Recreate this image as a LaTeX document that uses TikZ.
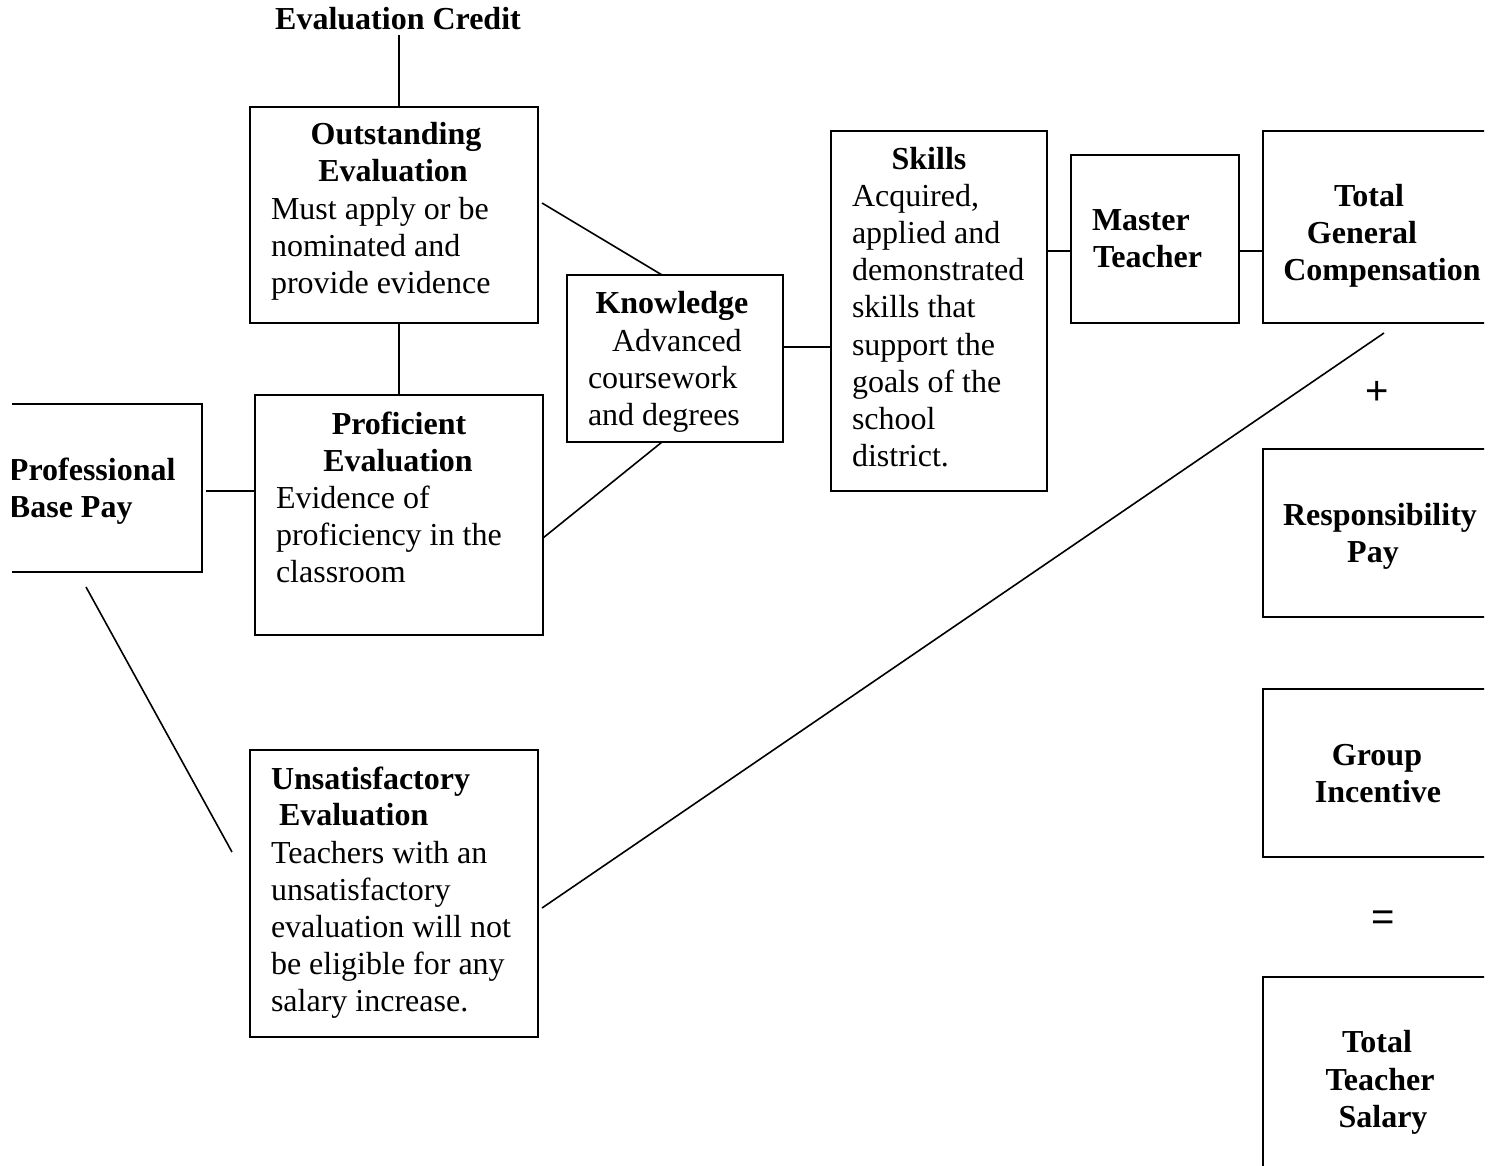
\documentclass[tikz,border=0pt]{standalone}
\usepackage{fontspec}
\setmainfont{Liberation Serif}
\newfontfamily\sansf{Liberation Sans}
\usetikzlibrary{calc}
\begin{document}
\begin{tikzpicture}[x=1pt,y=-1pt,
  every node/.style={inner sep=0pt, outer sep=0pt, font=\fontsize{32}{37}\selectfont},
  box/.style={draw, line width=2.2pt, rectangle},
  ln/.style={anchor=base west},
  lnb/.style={anchor=base west, font=\fontsize{32}{37}\selectfont\bfseries},
  cb/.style={anchor=base, font=\fontsize{32}{37}\selectfont\bfseries},
  sym/.style={font=\fontsize{40}{40}\selectfont\sansf},
  conn/.style={line width=1.6pt}]
\useasboundingbox (0,0) rectangle (1499,1166);
\clip (12,-5) rectangle (1484,1170);

% boxes
\node[box, minimum width=288pt, minimum height=216pt] (out) at (394,215) {};
\node[box, minimum width=288pt, minimum height=240pt] (prof) at (399,515) {};
\node[box, minimum width=232pt, minimum height=168pt] (pbp) at (86,488) {};
\node[box, minimum width=288pt, minimum height=287pt] (unsat) at (394,893.5) {};
\node[box, minimum width=216pt, minimum height=167pt] (know) at (675,358.5) {};
\node[box, minimum width=216pt, minimum height=360pt] (skills) at (939,311) {};
\node[box, minimum width=168pt, minimum height=168pt] (master) at (1155,239) {};
\node[box, minimum width=267pt, minimum height=192pt] (tgc) at (1396.5,227) {};
\node[box, minimum width=267pt, minimum height=168pt] (resp) at (1396.5,533) {};
\node[box, minimum width=267pt, minimum height=168pt] (grp) at (1396.5,773) {};
\node[box, minimum width=267pt, minimum height=223pt] (tts) at (1396.5,1088.5) {};

% texts
\node[cb] (ec) at (398,30) {Evaluation Credit};

\node[cb] (oh1) at (396,145) {Outstanding};
\node[cb] (oh2) at (393,182) {Evaluation};
\foreach \t [count=\i] in {Must apply or be, nominated and, provide evidence}
  \node[ln] (ot\i) at (271,{220+37*(\i-1)}) {\t};

\node[cb] (ph1) at (399,434) {Proficient};
\node[cb] (ph2) at (398,471) {Evaluation};
\foreach \t [count=\i] in {Evidence of, proficiency in the, classroom}
  \node[ln] (pt\i) at (276,{508+37*(\i-1)}) {\t};

\node[lnb] (bp1) at (9,480) {Professional};
\node[lnb] (bp2) at (9,517) {Base Pay};

\node[lnb] (uh1) at (271,789) {Unsatisfactory};
\node[lnb] (uh2) at (279,825) {Evaluation};
\foreach \t [count=\i] in {Teachers with an, unsatisfactory, evaluation will not, be eligible for any, salary increase.}
  \node[ln] (ut\i) at (271,{863+37*(\i-1)}) {\t};

\node[cb] (kh) at (672,313) {Knowledge};
\node[ln] (kt1) at (612,351) {Advanced};
\node[ln] (kt2) at (588,388) {coursework};
\node[ln] (kt3) at (588,425) {and degrees};

\node[cb] (sh) at (929,170) {Skills};
\foreach \t [count=\i] in {{Acquired,}, applied and, demonstrated, skills that, support the, goals of the, school, district.}
  \node[ln] (st\i) at (852,{207+37*(\i-1)}) {\t};

\node[lnb] (mt1) at (1092,231) {Master};
\node[lnb] (mt2) at (1093,268) {Teacher};

\node[cb] (gc1) at (1369,207) {Total};
\node[cb] (gc2) at (1362,244) {General};
\node[cb] (gc3) at (1382,281) {Compensation};

\node[cb] (rp1) at (1380,525) {Responsibility};
\node[cb] (rp2) at (1373,562) {Pay};

\node[cb] (gi1) at (1377,765) {Group};
\node[cb] (gi2) at (1378,802) {Incentive};

\node[cb] (ts1) at (1377,1052) {Total};
\node[cb] (ts2) at (1380,1090) {Teacher};
\node[cb] (ts3) at (1383,1127) {Salary};

\node[sym] (plus) at (1377,393) {+};
\node[sym] (eq) at (1383,921) {=};

% connectors
\coordinate (c1) at ($(out.north)+(5,0)$);
\coordinate (c1t) at ($(ec.base -| c1)+(0,5)$);
\draw[conn] (c1) -- (c1t);
\draw[conn] (prof.north) -- (prof.north |- out.south);
\coordinate (a) at ($(pbp.east)+(4,3)$);
\draw[conn] (a) -- (a -| prof.west);
\coordinate (b1) at ($(out.east)+(4,-12)$);
\coordinate (b2) at ($(know.north west)!0.44!(know.north east)$);
\draw[conn] (b1) -- (b2);
\coordinate (b3) at ($(prof.east)+(0,23)$);
\coordinate (b4) at ($(know.south west)!0.44!(know.south east)$);
\draw[conn] (b3) -- (b4);
\coordinate (b5) at ($(know.east)+(0,-11.5)$);
\draw[conn] (b5) -- (b5 -| skills.west);
\coordinate (b6) at ($(master.west)+(0,12)$);
\draw[conn] (b6 -| skills.east) -- (b6);
\coordinate (b7) at ($(master.east)+(0,12)$);
\draw[conn] (b7) -- (b7 -| tgc.west);
\coordinate (b8) at ($(unsat.east)+(4,14.5)$);
\coordinate (b9) at ($(tgc.south west)+(121,10)$);
\draw[conn] (b8) -- (b9);
\coordinate (b10) at ($(pbp.south)+(0,15)$);
\coordinate (b11) at ($(unsat.west)+(-18,-41.5)$);
\draw[conn] (b10) -- (b11);
\end{tikzpicture}
\end{document}
